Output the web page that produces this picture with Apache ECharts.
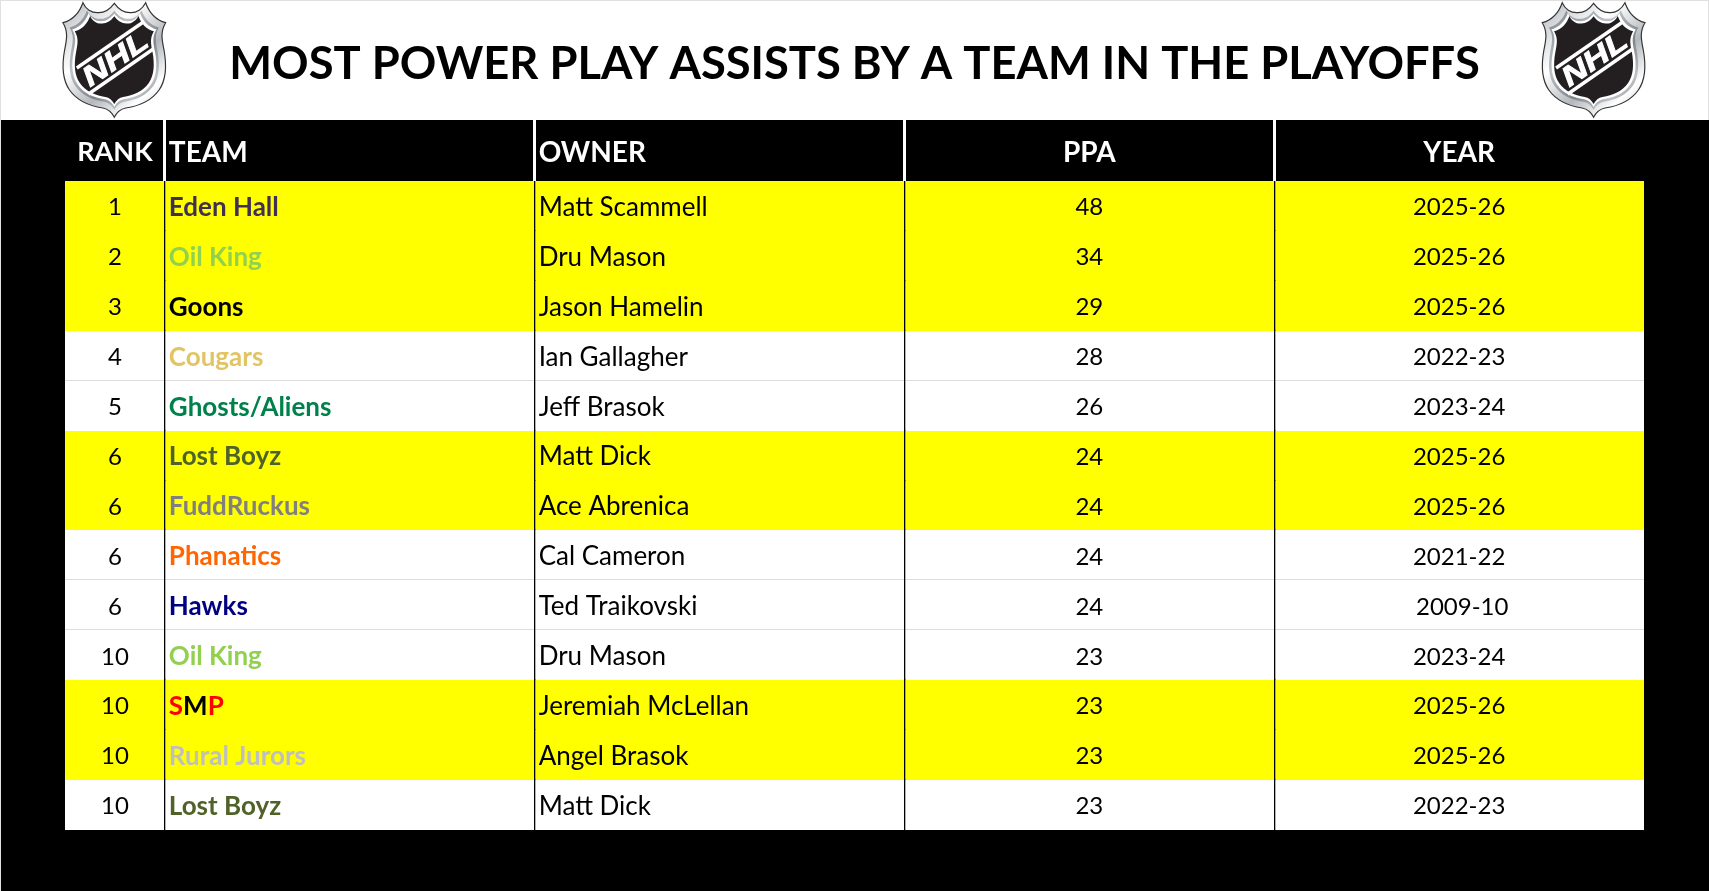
<!DOCTYPE html>
<html>
<head>
<meta charset="utf-8">
<title>Most Power Play Assists By A Team In The Playoffs</title>
<script src="https://cdn.jsdelivr.net/npm/echarts@6/dist/echarts.min.js"></script>
<style>
  html, body { margin: 0; padding: 0; background: #fff; }
  #chart { width: 1709px; height: 891px; }
</style>
</head>
<body>
<div id="chart"></div>
<script>
const titleText = 'MOST POWER PLAY ASSISTS BY A TEAM IN THE PLAYOFFS';
const headers = ['RANK', 'TEAM', 'OWNER', 'PPA', 'YEAR'];
const ranks = [1, 2, 3, 4, 5, 6, 6, 6, 6, 10, 10, 10, 10];
const teams = ['Eden Hall', 'Oil King', 'Goons', 'Cougars', 'Ghosts/Aliens', 'Lost Boyz', 'FuddRuckus',
  'Phanatics', 'Hawks', 'Oil King', 'SMP', 'Rural Jurors', 'Lost Boyz'];
const teamColors = ['#403151', '#92D050', '#000000', '#E2C462', '#00804A', '#4F6228', '#808080',
  '#FF6600', '#000080', '#92D050', '#FF0000', '#BFBFBF', '#4F6228'];
const owners = ['Matt Scammell', 'Dru Mason', 'Jason Hamelin', 'Ian Gallagher', 'Jeff Brasok', 'Matt Dick', 'Ace Abrenica',
  'Cal Cameron', 'Ted Traikovski', 'Dru Mason', 'Jeremiah McLellan', 'Angel Brasok', 'Matt Dick'];
const ppa = [48, 34, 29, 28, 26, 24, 24, 24, 24, 23, 23, 23, 23];
const years = ['2025-26', '2025-26', '2025-26', '2022-23', '2023-24', '2025-26', '2025-26',
  '2021-22', ' 2009-10', '2023-24', '2025-26', '2025-26', '2022-23'];
const currentYear = '2025-26';

const FONT = 'Lato';
// column widths in axis units, the rank column is narrow
const colUnits = [0.27, 1, 1, 1, 1];
const colEdges = colUnits.reduce((acc, w) => acc.concat(acc[acc.length - 1] + w), [0]);
const colAlign = ['center', 'left', 'left', 'center', 'center'];
const rowIds = ranks.map((_, i) => i);
const isCurrent = (i) => years[i] === currentYear;

function cellX(api, col, row) {
  const left = api.coord([colEdges[col], row])[0];
  const right = api.coord([colEdges[col + 1], row])[0];
  return colAlign[col] === 'center' ? (left + right) / 2 : left + 4;
}

function renderRow(params, api) {
  const row = api.value(1);
  const start = api.coord([0, row]);
  const end = api.coord([colEdges[colEdges.length - 1], row]);
  const band = api.size([0, 1])[1];
  const top = Math.round(start[1] - band / 2);
  const bottom = Math.round(start[1] + band / 2);
  const children = [{
    type: 'rect',
    shape: { x: start[0], y: top, width: end[0] - start[0], height: bottom - top },
    style: { fill: isCurrent(row) ? '#FFFF00' : '#FFFFFF' }
  }];
  if (row > 0 && !isCurrent(row) && !isCurrent(row - 1)) {
    children.push({
      type: 'rect',
      shape: { x: start[0], y: top - 1, width: end[0] - start[0], height: 1 },
      style: { fill: '#DDDDDD' }
    });
  }
  colEdges.slice(1, -1).forEach((edge) => {
    const x = Math.floor(api.coord([edge, row])[0]);
    children.push({
      type: 'rect',
      shape: { x: x, y: top - 1, width: 1.3, height: bottom - top + 1 },
      style: { fill: '#000000' }
    });
  });
  return { type: 'group', children };
}

function cellText(i, col) {
  return [ranks[i], teams[i], owners[i], ppa[i], years[i]][col];
}

function renderCell(params, api) {
  const col = api.value(0);
  const row = api.value(1);
  const y = api.coord([0, row])[1] + 1.5;
  const style = {
    x: cellX(api, col, row),
    y: y,
    text: String(cellText(row, col)),
    fill: '#000000',
    font: (col === 2 ? '26px ' : '24px ') + FONT,
    align: colAlign[col],
    verticalAlign: 'middle'
  };
  if (col === 1) {
    style.font = 'bold 26px ' + FONT;
    style.fill = teamColors[row];
    if (teams[row] === 'SMP') {
      style.text = '{r|S}{k|M}{r|P}';
      style.rich = {
        r: { fill: '#FF0000', font: style.font },
        k: { fill: '#000000', font: style.font }
      };
    }
  }
  return { type: 'text', style };
}

function renderHeader(params, api) {
  const col = api.value(0);
  const y = api.coord([0, 0])[1] + 2;
  const children = [{
    type: 'text',
    style: {
      x: cellX(api, col, 0),
      y: y,
      text: headers[col],
      fill: '#FFFFFF',
      font: (col === 0 ? 'bold 27px ' : 'bold 28px ') + FONT,
      align: colAlign[col],
      verticalAlign: 'middle'
    }
  }];
  if (col < headers.length - 1) {
    const edge = Math.floor(api.coord([colEdges[col + 1], 0])[0]);
    const band = api.size([0, 1])[1];
    children.push({
      type: 'rect',
      shape: { x: edge - 1, y: y - 2 - band / 2, width: 3, height: band },
      style: { fill: '#FFFFFF' }
    });
  }
  return { type: 'group', children };
}

// NHL shield, local coords about 120 wide
const shieldPath = 'M27.3 2.7 C30 9 36 13 42.7 12.7 C49 13 55 9 59.3 3.3 C63.6 9 69.6 13 76 12.7 C82 13 88 9 91.3 2.7 ' +
  'C95 13 102 20 111.7 22.7 C106 32 108 40 110 50 C113 66 112 80 105 90 C97 101 85 106 71 108 C66 109 62 112 59.3 117.3 ' +
  'C56.6 112 52.6 109 47.6 108 C33.6 106 21.6 101 13.6 90 C6.6 80 5.6 66 8.6 50 C10.6 40 12.6 32 6.9 22.7 ' +
  'C16.6 20 23.6 13 27.3 2.7 Z';

function shieldLayer(scale, fill, stroke) {
  return {
    type: 'path',
    shape: { pathData: shieldPath },
    originX: 59.3,
    originY: 60,
    scaleX: scale,
    scaleY: scale,
    style: { fill, stroke: stroke || null, lineWidth: stroke ? 1.2 : 0 }
  };
}

function silver(a, b) {
  return {
    type: 'linear', x: 0, y: 0, x2: 1, y2: 1,
    colorStops: [
      { offset: 0, color: a }, { offset: 0.35, color: b },
      { offset: 0.6, color: a }, { offset: 0.8, color: b }, { offset: 1, color: a }
    ]
  };
}

function renderLogo(params, api) {
  return {
    type: 'group',
    x: api.value(0),
    y: 0,
    originX: 59.3,
    scaleX: 0.98,
    children: [
      shieldLayer(1, silver('#B4B8BC', '#FFFFFF'), '#333333'),
      shieldLayer(0.87, silver('#7E848A', '#BEC2C6')),
      shieldLayer(0.82, '#FFFFFF'),
      shieldLayer(0.77, '#231F20'),
      { type: 'line', shape: { x1: 21, y1: 68, x2: 89, y2: 22 }, style: { stroke: '#FFFFFF', lineWidth: 3.4 } },
      { type: 'line', shape: { x1: 33, y1: 94, x2: 99, y2: 49 }, style: { stroke: '#FFFFFF', lineWidth: 3.4 } },
      {
        type: 'text',
        x: 61,
        y: 60,
        rotation: 0.6,
        scaleX: 1.3,
        style: {
          text: 'NHL',
          x: 0,
          y: 0,
          font: 'italic bold 28px "Liberation Sans"',
          fill: '#FFFFFF',
          stroke: '#FFFFFF',
          lineWidth: 0.8,
          align: 'center',
          verticalAlign: 'middle'
        }
      }
    ]
  };
}

const chart = echarts.init(document.getElementById('chart'), null, { renderer: 'canvas' });
chart.setOption({
  animation: false,
  backgroundColor: '#FFFFFF',
  title: {
    text: titleText,
    left: 'center',
    top: 37,
    textStyle: { fontFamily: FONT, fontWeight: 'bold', fontSize: 45.3, color: '#000000' }
  },
  tooltip: { show: false },
  graphic: [
    { type: 'rect', z: 0, shape: { x: 0, y: 0, width: 1709, height: 1 }, style: { fill: '#E0E0E0' } },
    { type: 'rect', z: 0, shape: { x: 0, y: 0, width: 1, height: 891 }, style: { fill: '#E0E0E0' } },
    { type: 'rect', z: 0, shape: { x: 1708, y: 0, width: 1, height: 120 }, style: { fill: '#E0E0E0' } },
    { type: 'rect', z: 0, shape: { x: 1, y: 120, width: 1708, height: 771 }, style: { fill: '#000000' } }
  ],
  grid: [
    { left: 65, right: 65, top: 181, height: 649 },
    { left: 65, right: 65, top: 120, height: 61 }
  ],
  xAxis: [
    { type: 'value', gridIndex: 0, min: 0, max: colEdges[colEdges.length - 1], show: false },
    { type: 'value', gridIndex: 1, min: 0, max: colEdges[colEdges.length - 1], show: false }
  ],
  yAxis: [
    { type: 'category', gridIndex: 0, inverse: true, data: rowIds, show: false },
    { type: 'category', gridIndex: 1, data: ['header'], show: false }
  ],
  series: [
    {
      type: 'custom',
      name: 'rows',
      xAxisIndex: 0,
      yAxisIndex: 0,
      silent: true,
      clip: false,
      z: 2,
      renderItem: renderRow,
      data: rowIds.map((i) => [0, i])
    },
    {
      type: 'custom',
      name: 'cells',
      xAxisIndex: 0,
      yAxisIndex: 0,
      silent: true,
      clip: false,
      z: 3,
      renderItem: renderCell,
      data: rowIds.flatMap((i) => headers.map((_, col) => [col, i]))
    },
    {
      type: 'custom',
      name: 'header',
      xAxisIndex: 1,
      yAxisIndex: 1,
      silent: true,
      clip: false,
      z: 3,
      renderItem: renderHeader,
      data: headers.map((_, col) => [col, 0])
    },
    {
      type: 'custom',
      name: 'logos',
      coordinateSystem: 'none',
      silent: true,
      z: 3,
      renderItem: renderLogo,
      data: [[55], [1534.3]]
    }
  ]
});
</script>
</body>
</html>
